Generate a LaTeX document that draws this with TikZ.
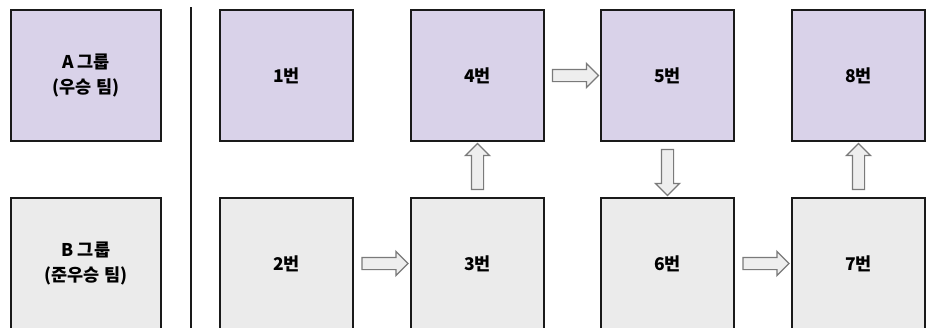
\documentclass[tikz,border=0pt]{standalone}
\usepackage{fontspec}
\newfontfamily\kr{Noto Sans CJK KR}
\usetikzlibrary{shapes.arrows,calc}
\definecolor{purp}{HTML}{D9D2E9}
\definecolor{lgray}{HTML}{EBEBEB}
\definecolor{arrfill}{HTML}{EEEEEE}
\definecolor{arrline}{HTML}{7A7A7A}
\definecolor{edge}{HTML}{1A1A1A}
\tikzset{
  box/.style={draw=edge, line width=1.5pt, minimum width=133pt, minimum height=131pt,
    inner sep=0pt, font=\kr\bfseries\fontsize{17.5}{25}\selectfont, text=black, align=center},
  grp/.style={box, minimum width=150pt},
  topbox/.style={fill=purp},
  botbox/.style={fill=lgray},
  blockarr/.style={single arrow, draw=arrline, fill=arrfill, line width=1.2pt,
    minimum height=46pt, text height=11pt, text depth=0pt, text width=0pt,
    single arrow head extend=6pt, single arrow tip angle=90, inner sep=0pt},
}
\begin{document}
\begin{tikzpicture}[x=1pt,y=-1pt]
\clip (0,0) rectangle (930,327);
\fill[white] (0,0) rectangle (930,327);
% group boxes
\node[grp, topbox] (ga) at (86,75.5) {A 그룹\\(우승 팀)};
\node[grp, botbox] (gb) at (86,263.5) {B 그룹\\(준우승 팀)};
% divider
\coordinate (d1) at (190.5,7);
\coordinate (d2) at (190.5,330);
\draw[edge, line width=2pt] (d1) -- (d2);
% top row
\node[box, topbox] (n1) at (286.5,75.5) {1번};
\node[box, topbox] (n4) at (477.5,75.5) {4번};
\node[box, topbox] (n5) at (667.5,75.5) {5번};
\node[box, topbox] (n8) at (858.5,75.5) {8번};
% bottom row
\node[box, botbox] (n2) at (286.5,263.5) {2번};
\node[box, botbox] (n3) at (477.5,263.5) {3번};
\node[box, botbox] (n6) at (667.5,263.5) {6번};
\node[box, botbox] (n7) at (858.5,263.5) {7번};
% block arrows
\node[blockarr] (a23) at ($(n2.east)!0.5!(n3.west)$) {};
\node[blockarr, rotate=90] (a34) at ($(n3.north)!0.5!(n4.south)$) {};
\node[blockarr] (a45) at ($(n4.east)!0.5!(n5.west)$) {};
\node[blockarr, rotate=-90] (a56) at ($(n5.south)!0.5!(n6.north)$) {};
\node[blockarr] (a67) at ($(n6.east)!0.5!(n7.west)$) {};
\node[blockarr, rotate=90] (a78) at ($(n7.north)!0.5!(n8.south)$) {};
\end{tikzpicture}
\end{document}
